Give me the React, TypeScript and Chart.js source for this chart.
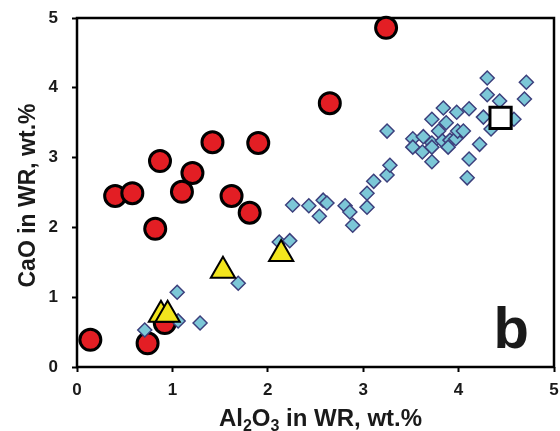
import React, { useEffect, useRef } from "react";
import { Chart, registerables } from "chart.js";

Chart.register(...registerables);

// Red circles
const circleAl = [0.14, 0.74, 0.92, 0.40, 0.58, 0.82, 0.87, 1.10, 1.21, 1.42, 1.62, 1.81, 1.90, 2.65, 3.24];
const circleCa = [0.39, 0.34, 0.63, 2.45, 2.49, 1.98, 2.95, 2.51, 2.78, 3.22, 2.45, 2.21, 3.21, 3.78, 4.86];

// Yellow triangles
const triAl = [0.88, 0.95, 1.53, 2.14];
const triCa = [0.75, 0.75, 1.38, 1.62];

// Blue diamonds
const diaAl = [
  0.71, 1.05, 1.06, 1.29, 1.69, 2.12, 2.23,
  2.26, 2.43, 2.58, 2.62, 2.54, 2.81, 2.86, 2.89, 3.04, 3.04, 3.11, 3.25, 3.28, 3.25,
  3.52, 3.52, 3.62, 3.63, 3.72, 3.72, 3.72, 3.72, 3.84, 3.87, 3.79, 3.83, 3.91, 3.89,
  3.97, 3.99, 4.05, 3.98, 4.11, 4.22, 4.11, 4.09, 4.30, 4.30, 4.43, 4.26, 4.34, 4.58,
  4.71, 4.69,
];
const diaCa = [
  0.53, 1.07, 0.66, 0.63, 1.20, 1.79, 1.81,
  2.32, 2.31, 2.39, 2.35, 2.16, 2.31, 2.22, 2.03, 2.29, 2.49, 2.66, 2.75, 2.89, 3.38,
  3.27, 3.15, 3.08, 3.30, 3.21, 3.15, 2.94, 3.55, 3.71, 3.50, 3.38, 3.24, 3.25, 3.15,
  3.27, 3.38, 3.38, 3.65, 3.70, 3.19, 2.98, 2.71, 4.14, 3.90, 3.81, 3.58, 3.41, 3.55,
  4.08, 3.84,
];

// White square
const sqAl = [4.44];
const sqCa = [3.57];

const tickValues = [0, 1, 2, 3, 4, 5];
const yTitle = "CaO in WR, wt.%";
const xTitleParts = [
  { t: "Al", sub: false },
  { t: "2", sub: true },
  { t: "O", sub: false },
  { t: "3", sub: true },
  { t: " in WR, wt.%", sub: false },
];
const panelLetter = "b";

const FONT = "'Liberation Sans', Arial, Helvetica, sans-serif";

const toPts = (xs: number[], ys: number[]) => xs.map((x, i) => ({ x, y: ys[i] }));

const decorPlugin = {
  id: "decor",
  beforeDatasetsDraw(chart: any) {
    const { ctx, chartArea } = chart;
    const { left, right, top, bottom } = chartArea;
    ctx.save();
    ctx.strokeStyle = "#000";
    ctx.lineWidth = 2.5;
    ctx.strokeRect(left, top, right - left, bottom - top);
    // panel letter
    ctx.fillStyle = "#1a1a1a";
    ctx.font = `bold 58px ${FONT}`;
    ctx.textAlign = "right";
    ctx.textBaseline = "alphabetic";
    ctx.fillText(panelLetter, right - 25, bottom - 19);
    ctx.restore();
  },
  afterDraw(chart: any) {
    const { ctx, chartArea } = chart;
    ctx.save();
    ctx.fillStyle = "#1a1a1a";
    // y title
    ctx.font = `bold 23px ${FONT}`;
    ctx.translate(35, (chartArea.top + chartArea.bottom) / 2 + 3);
    ctx.rotate(-Math.PI / 2);
    ctx.textAlign = "center";
    ctx.textBaseline = "alphabetic";
    ctx.fillText(yTitle, 0, 0);
    ctx.restore();

    // x title with subscripts
    ctx.save();
    ctx.fillStyle = "#1a1a1a";
    ctx.textBaseline = "alphabetic";
    ctx.textAlign = "left";
    const big = `bold 24px ${FONT}`;
    const small = `bold 16px ${FONT}`;
    let total = 0;
    const widths = xTitleParts.map((p) => {
      ctx.font = p.sub ? small : big;
      const w = ctx.measureText(p.t).width;
      total += w;
      return w;
    });
    let x = (chartArea.left + chartArea.right) / 2 + 5 - total / 2;
    const base = 426;
    xTitleParts.forEach((p, i) => {
      ctx.font = p.sub ? small : big;
      ctx.fillText(p.t, x, p.sub ? base + 5 : base);
      x += widths[i];
    });
    ctx.restore();
  },
};

export default function App() {
  const ref = useRef<HTMLCanvasElement | null>(null);

  useEffect(() => {
    document.body.style.margin = "0";
    const canvas = ref.current;
    if (!canvas) return;
    const axisCommon = {
      type: "linear" as const,
      min: 0,
      max: 5,
      border: { display: false },
      grid: {
        display: true,
        drawOnChartArea: false,
        drawTicks: true,
        tickLength: 5,
        tickColor: "#000",
        tickWidth: 2,
      },
    };
    const chart = new Chart(canvas, {
      type: "scatter",
      data: {
        datasets: [
          {
            label: "square",
            data: toPts(sqAl, sqCa),
            pointStyle: "rect",
            pointRadius: 15,
            pointBackgroundColor: "#ffffff",
            pointBorderColor: "#000000",
            pointBorderWidth: 3,
            clip: false as any,
          },
          {
            label: "triangles",
            data: toPts(triAl, triCa),
            pointStyle: "triangle",
            pointRadius: 14,
            pointBackgroundColor: "#f2e51d",
            pointBorderColor: "#000000",
            pointBorderWidth: 2,
            clip: false as any,
          },
          {
            label: "diamonds",
            data: toPts(diaAl, diaCa),
            pointStyle: "rectRot",
            pointRadius: 7,
            pointBackgroundColor: "#7cc7d7",
            pointBorderColor: "#3c3f7c",
            pointBorderWidth: 1.5,
            clip: false as any,
          },
          {
            label: "circles",
            data: toPts(circleAl, circleCa),
            pointStyle: "circle",
            pointRadius: 10.5,
            pointBackgroundColor: "#e31e24",
            pointBorderColor: "#000000",
            pointBorderWidth: 3,
            clip: false as any,
          },
        ],
      },
      options: {
        animation: false,
        responsive: true,
        maintainAspectRatio: false,
        layout: { autoPadding: false, padding: { top: 18, right: 6, left: 0, bottom: 0 } },
        plugins: {
          legend: { display: false },
          tooltip: { enabled: false },
        },
        scales: {
          x: {
            ...axisCommon,
            position: "bottom",
            afterFit: (s: any) => {
              s.height = 64;
              s.paddingLeft = 0;
              s.paddingRight = 0;
            },
            afterBuildTicks: (s: any) => {
              s.ticks = tickValues.map((v) => ({ value: v }));
            },
            ticks: {
              padding: 8,
              color: "#1a1a1a",
              font: { family: FONT, size: 17, weight: "bold" },
            },
          },
          y: {
            ...axisCommon,
            position: "left",
            afterFit: (s: any) => {
              s.width = 77;
              s.paddingTop = 0;
              s.paddingBottom = 0;
            },
            afterBuildTicks: (s: any) => {
              s.ticks = tickValues.map((v) => ({ value: v }));
            },
            ticks: {
              padding: 14,
              color: "#1a1a1a",
              font: { family: FONT, size: 17, weight: "bold" },
            },
          },
        },
      },
      plugins: [decorPlugin],
    });
    return () => chart.destroy();
  }, []);

  return (
    <div style={{ width: 560, height: 431, position: "relative", background: "#fff" }}>
      <canvas ref={ref} />
    </div>
  );
}
